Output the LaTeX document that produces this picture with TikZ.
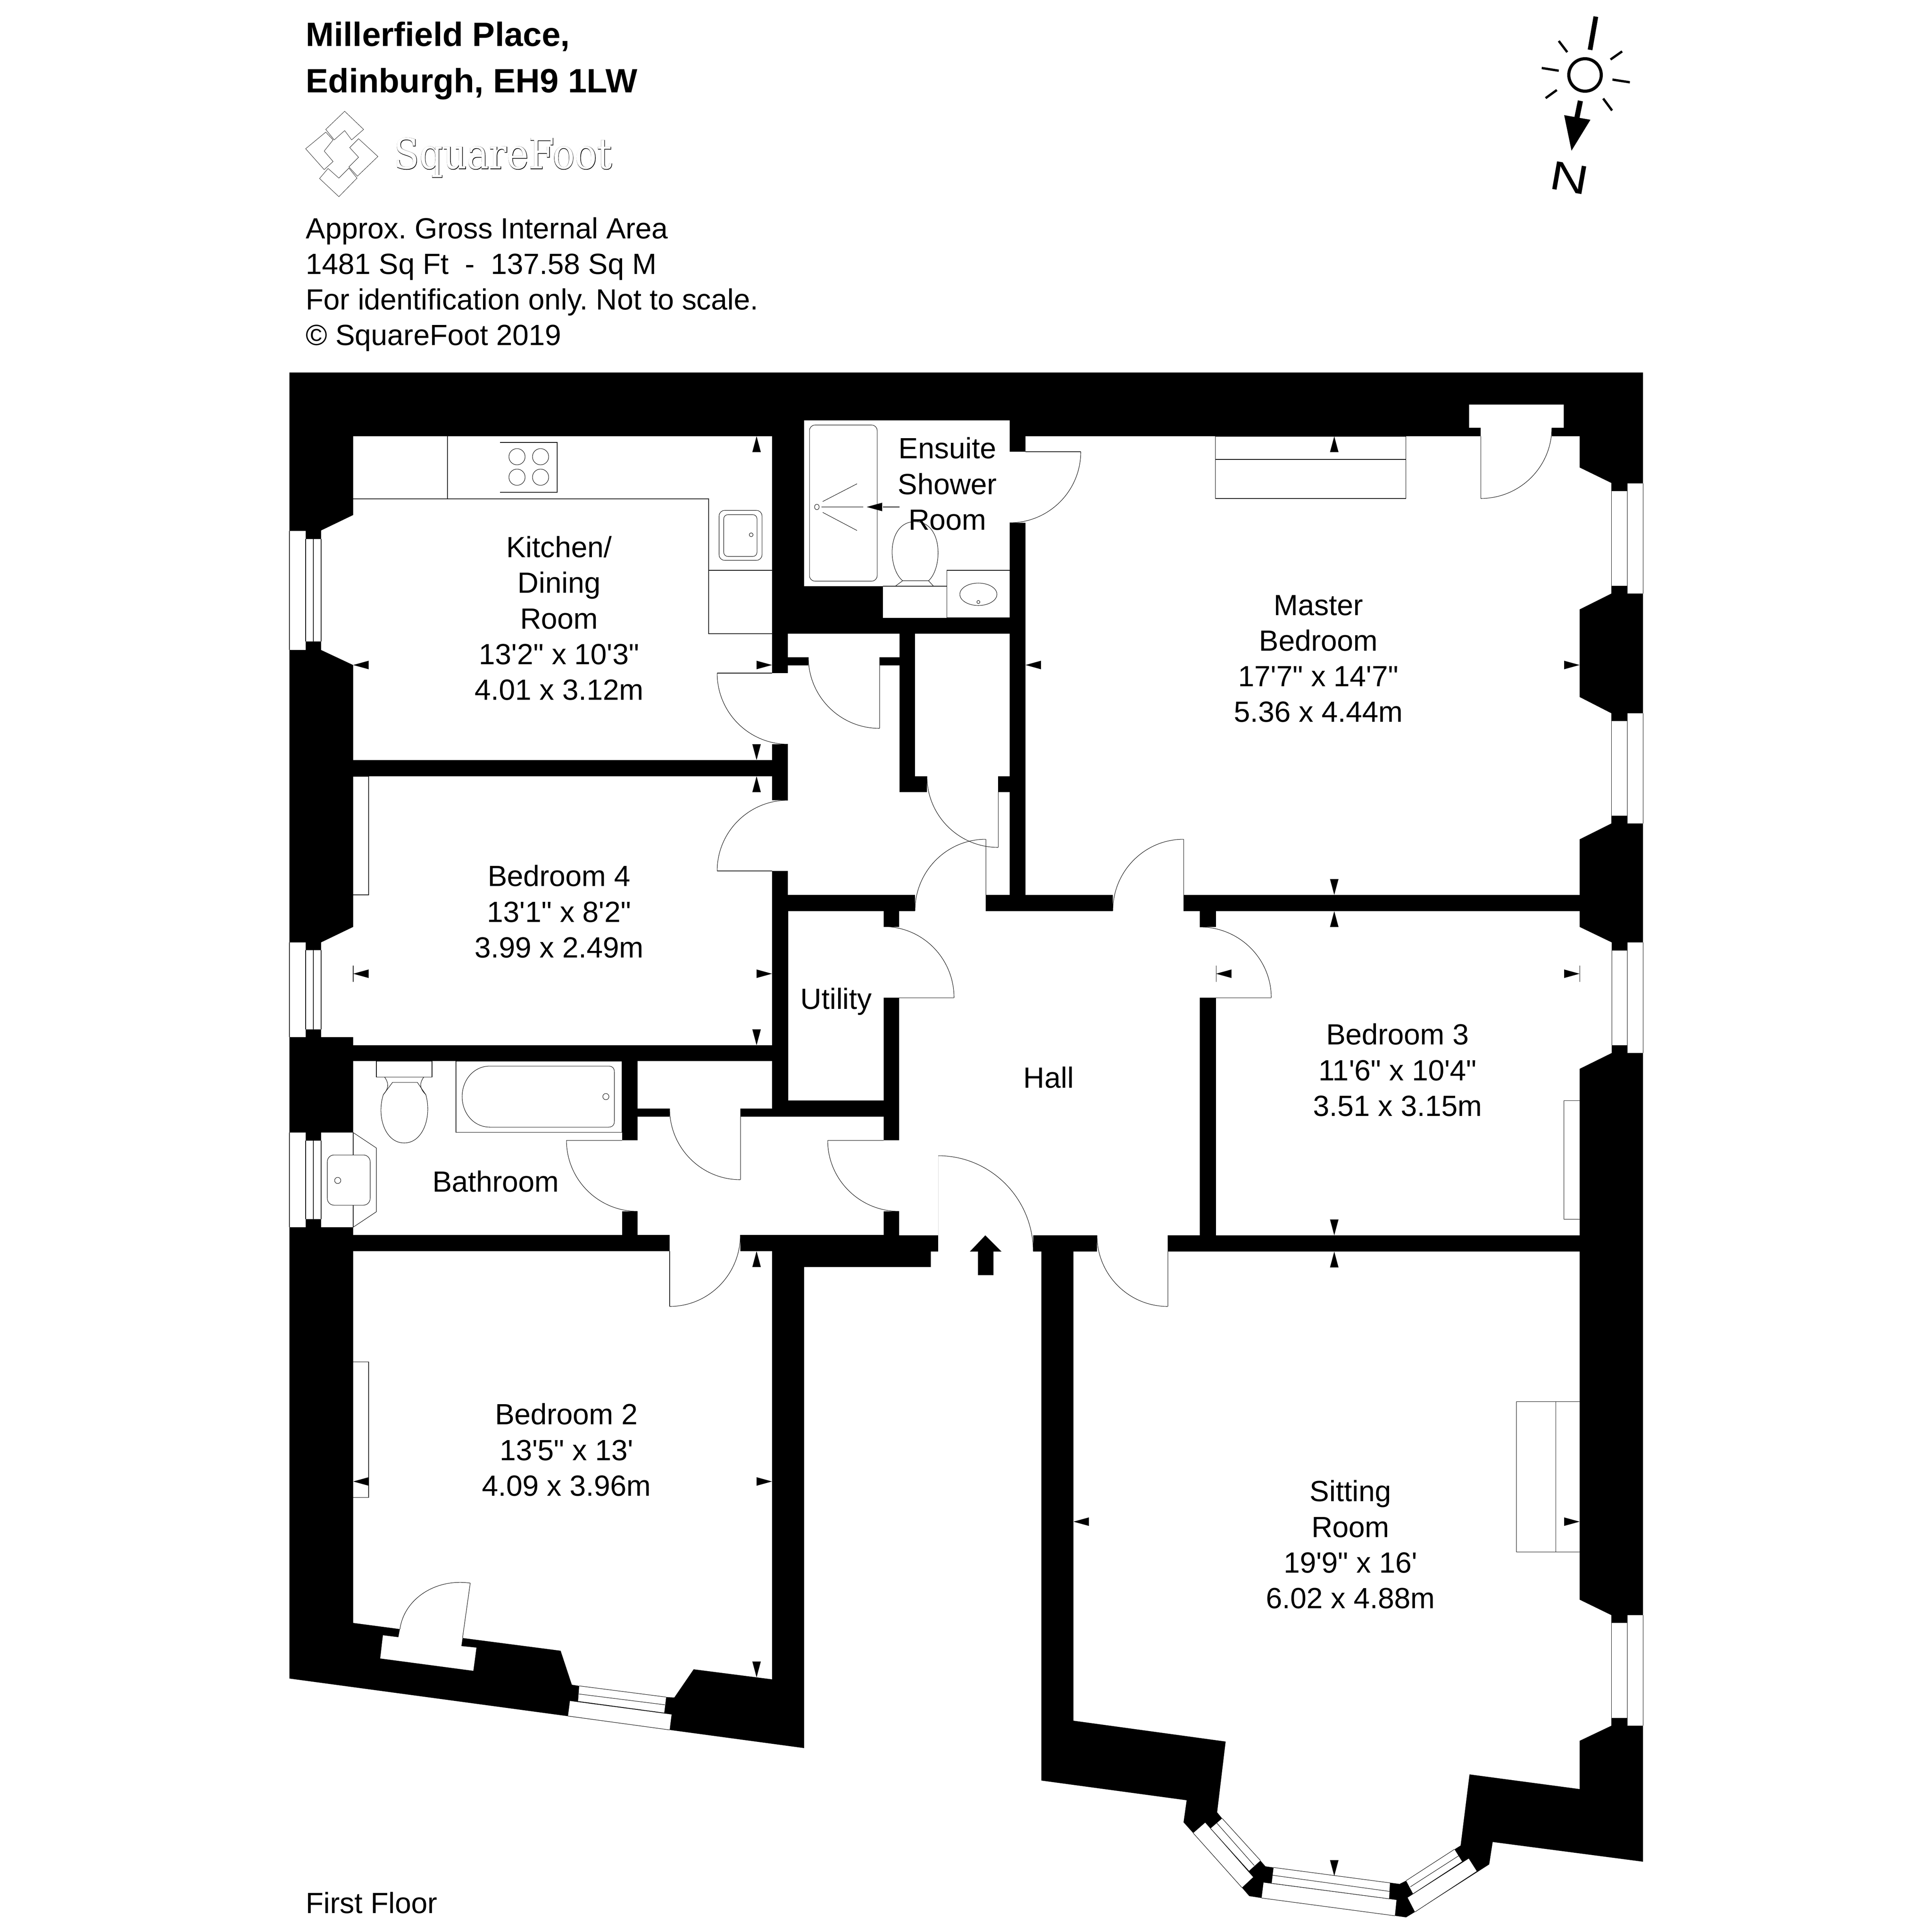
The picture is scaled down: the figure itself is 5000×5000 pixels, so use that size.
\documentclass[tikz,border=0pt]{standalone}
\usepackage{fontspec}
\usepackage{graphicx}
\usetikzlibrary{calc}
\setmainfont{Liberation Sans}
\newfontfamily\logofont[FakeBold=1.5]{DejaVu Serif}
\newfontfamily\logofontw{DejaVu Serif}
\frenchspacing
\newcommand\ftm{\textquotesingle}
\newcommand\inm{\textquotedbl}
\tikzset{
  thinl/.style={line width=0.3pt,black,line cap=butt},
  logol/.style={line width=0.22pt,black},
  wallfill/.style={fill=black,draw=none},
  floorfill/.style={fill=white,draw=none},
  roomlabel/.style={font=\fontsize{21.5pt}{26.2pt}\selectfont,align=center,inner sep=0pt,black},
  infolabel/.style={font=\fontsize{21.5pt}{26.2pt}\selectfont,align=left,inner sep=0pt,black},
  titlelabel/.style={font=\bfseries\fontsize{24.8pt}{34pt}\selectfont,align=left,inner sep=0pt,black},
  sunray/.style={line width=1.7pt,black},
}
\newcommand\doorarc[3]{\draw[thinl] (#1) .. controls ($(#1)!0.5523!(#3)$) and ($(#2)!0.5523!(#3)$) .. (#2);}
\newcommand\tipL[2]{\fill[black] (#1,#2) -- ++(40,-11) -- ++(0,22) -- cycle;}
\newcommand\tipR[2]{\fill[black] (#1,#2) -- ++(-40,-11) -- ++(0,22) -- cycle;}
\newcommand\tipU[2]{\fill[black] (#1,#2) -- ++(-11,41) -- ++(22,0) -- cycle;}
\newcommand\tipD[2]{\fill[black] (#1,#2) -- ++(-11,-41) -- ++(22,0) -- cycle;}
\begin{document}
\begin{tikzpicture}[x=0.01cm,y=-0.01cm]
\useasboundingbox (0,0) rectangle (5000,5000);
\fill[white] (0,0) rectangle (5000,5000);
% silhouette
\fill[wallfill] (749,964) -- (4252,964) -- (4252,4818) -- (3863,4767) -- (3854,4825) -- (3662,4948) -- (3639,4962) -- (3610,4958) -- (3265,4912) -- (3233,4907) -- (3214,4885) -- (3063,4716) -- (3071,4659) -- (2695,4608) -- (2695,3239) -- (2409,3239) -- (2409,3279) -- (2081,3279) -- (2081,4524) -- (749,4344) -- cycle;
% kitchen
\fill[floorfill] (914,1129) -- (1998,1129) -- (1998,1967) -- (914,1967) -- (914,1721) -- (831,1682) -- (831,1660) -- (791,1660) -- (791,1682) -- (749,1682) -- (749,1374) -- (791,1374) -- (791,1395) -- (831,1395) -- (831,1373) -- (914,1333) -- cycle;
% bedroom 4
\fill[floorfill] (914,2009) -- (1998,2009) -- (1998,2705) -- (914,2705) -- (914,2684) -- (831,2684) -- (831,2664) -- (791,2664) -- (791,2684) -- (749,2684) -- (749,2439) -- (791,2439) -- (791,2459) -- (831,2459) -- (831,2439) -- (914,2399) -- cycle;
% bathroom
\fill[floorfill] (914,2746) -- (1610,2746) -- (1610,3196) -- (914,3196) -- (914,3176) -- (831,3176) -- (831,3155) -- (791,3155) -- (791,3176) -- (749,3176) -- (749,2931) -- (791,2931) -- (791,2952) -- (831,2952) -- (831,2931) -- (914,2931) -- cycle;
% lobby, closet, gaps
\fill[floorfill] (1650,2890) rectangle (2287,3196);
\fill[floorfill] (1650,2746) rectangle (1998,2869);
\fill[floorfill] (1733,2869) rectangle (1916,2890);
\fill[floorfill] (1733,3196) rectangle (1916,3238);
\fill[floorfill] (1610,2951) rectangle (1650,3135);
\fill[floorfill] (2287,2951) rectangle (2327,3135);
% utility
\fill[floorfill] (2040,2358) rectangle (2287,2848);
\fill[floorfill] (2287,2399) rectangle (2327,2582);
% hall
\fill[floorfill] (2327,2358) rectangle (3105,3197);
\fill[floorfill] (2368,2316) rectangle (2551,2358);
\fill[floorfill] (2880,2316) rectangle (3063,2358);
\fill[floorfill] (2428,3197) rectangle (2674,3239);
\fill[floorfill] (2839,3197) rectangle (3022,3239);
\fill[floorfill] (3105,2399) rectangle (3147,2582);
\fill[floorfill] (2409,3239) rectangle (2695,3400);
% corridor
\fill[floorfill] (2039,1640) rectangle (2328,1701);
\fill[floorfill] (2092,1701) rectangle (2276,1722);
\fill[floorfill] (2039,1722) rectangle (2328,2316);
\fill[floorfill] (2328,2050) rectangle (2613,2316);
\fill[floorfill] (2399,2009) rectangle (2583,2050);
\fill[floorfill] (2368,1640) rectangle (2613,2009);
\fill[floorfill] (1998,1742) rectangle (2039,1926);
\fill[floorfill] (1998,2071) rectangle (2039,2254);
% ensuite
\fill[floorfill] (2081,1088) -- (2613,1088) -- (2613,1599) -- (2285,1599) -- (2285,1517) -- (2081,1517) -- cycle;
\fill[floorfill] (2613,1169) rectangle (2654,1353);
% master
\fill[floorfill] (2654,1129) -- (4088,1129) -- (4088,1210) -- (4170,1250) -- (4170,1271) -- (4211,1271) -- (4211,1251) -- (4252,1251) -- (4252,1536) -- (4211,1536) -- (4211,1516) -- (4170,1516) -- (4170,1536) -- (4088,1577) -- (4088,1804) -- (4170,1846) -- (4170,1866) -- (4211,1866) -- (4211,1846) -- (4252,1846) -- (4252,2131) -- (4211,2131) -- (4211,2111) -- (4170,2111) -- (4170,2131) -- (4088,2172) -- (4088,2316) -- (2654,2316) -- cycle;
\fill[wallfill] (4016,1107) rectangle (4088,1129);
\fill[floorfill] (3802,1047) rectangle (4047,1107);
\fill[floorfill] (3832,1107) rectangle (4016,1129);
% bedroom 3
\fill[floorfill] (3147,2358) -- (4088,2358) -- (4088,2399) -- (4171,2439) -- (4171,2460) -- (4211,2460) -- (4211,2439) -- (4252,2439) -- (4252,2725) -- (4211,2725) -- (4211,2705) -- (4171,2705) -- (4171,2725) -- (4088,2766) -- (4088,3197) -- (3147,3197) -- cycle;
% sitting room
\fill[floorfill] (2778,3239) -- (4088,3239) -- (4088,4140) -- (4170,4180) -- (4170,4200) -- (4211,4200) -- (4211,4180) -- (4252,4180) -- (4252,4466) -- (4211,4466) -- (4211,4446) -- (4170,4446) -- (4170,4466) -- (4088,4505) -- (4088,4630) -- (3803,4592) -- (3780,4776) -- (3764,4786) -- (3639,4867) -- (3621,4876) -- (3296,4833) -- (3275,4830) -- (3262,4815) -- (3163,4706) -- (3150,4690) -- (3172,4507) -- (2778,4453) -- cycle;
% bedroom 2
\fill[floorfill] (914,3238) -- (1998,3238) -- (1998,4346) -- (1795,4320) -- (1745,4393) -- (1724,4392) -- (1499,4363) -- (1480,4360) -- (1451,4272) -- (1197,4239) -- (1194,4260) -- (1233,4264) -- (1225,4324) -- (984,4292) -- (991,4232) -- (1031,4237) -- (1035,4216) -- (914,4200) -- cycle;
% bedroom 2 window
\fill[floorfill] (1499,4363) -- (1724,4392) -- (1719,4433) -- (1496,4403) -- cycle;
\fill[floorfill] (1475,4402) -- (1738,4437) -- (1733,4477) -- (1470,4441) -- cycle;
\draw[thinl] (1499,4363) -- (1724,4392);
\draw[thinl] (1498,4384) -- (1721,4412);
\draw[thinl] (1496,4403) -- (1719,4433);
\draw[thinl] (1470,4441) -- (1733,4477);
% bay windows
\fill[floorfill] (3133,4732) -- (3163,4706) -- (3262,4815) -- (3232,4842) -- cycle;
\fill[floorfill] (3088,4744) -- (3119,4717) -- (3243,4858) -- (3214,4885) -- cycle;
\draw[thinl] (3163,4706) -- (3262,4815);
\draw[thinl] (3149,4718) -- (3246,4828);
\draw[thinl] (3133,4732) -- (3232,4842);
\draw[thinl] (3088,4744) -- (3214,4885);
\fill[floorfill] (3296,4833) -- (3597,4873) -- (3595,4914) -- (3291,4874) -- cycle;
\fill[floorfill] (3270,4872) -- (3614,4917) -- (3610,4958) -- (3265,4912) -- cycle;
\draw[thinl] (3296,4833) -- (3621,4876);
\draw[thinl] (3293,4853) -- (3597,4895);
\draw[thinl] (3291,4874) -- (3595,4914);
\draw[thinl] (3265,4912) -- (3610,4958);
\fill[floorfill] (3639,4867) -- (3764,4786) -- (3784,4818) -- (3657,4901) -- cycle;
\fill[floorfill] (3643,4911) -- (3801,4810) -- (3822,4843) -- (3662,4948) -- cycle;
\draw[thinl] (3639,4867) -- (3764,4786);
\draw[thinl] (3650,4883) -- (3776,4802);
\draw[thinl] (3657,4901) -- (3784,4818);
\draw[thinl] (3662,4948) -- (3822,4843);
% window lines
\draw[thinl] (749,1374) -- (749,1682) (791,1395) -- (791,1660) (811,1395) -- (811,1660) (831,1395) -- (831,1660);
\draw[thinl] (749,2439) -- (749,2684) (791,2459) -- (791,2664) (811,2459) -- (811,2664) (831,2459) -- (831,2664);
\draw[thinl] (749,2931) -- (749,3176) (791,2952) -- (791,3155) (811,2952) -- (811,3155) (831,2952) -- (831,3155);
\draw[thinl] (4170,1271) -- (4170,1516) (4211,1251) -- (4211,1536) (4252,1251) -- (4252,1536);
\draw[thinl] (4170,1866) -- (4170,2111) (4211,1846) -- (4211,2131) (4252,1846) -- (4252,2131);
\draw[thinl] (4171,2460) -- (4171,2705) (4211,2439) -- (4211,2725) (4252,2439) -- (4252,2725);
\draw[thinl] (4170,4200) -- (4170,4446) (4211,4180) -- (4211,4466) (4252,4180) -- (4252,4466);
% doors
\draw[thinl] (2654,1169) -- (2797,1169); \doorarc{2797,1169}{2613,1353}{2797,1353}
\draw[thinl] (3832,1129) -- (3832,1290); \doorarc{3832,1290}{4016,1107}{4016,1290}
\draw[thinl] (2276,1722) -- (2276,1885); \doorarc{2092,1701}{2276,1885}{2092,1885}
\draw[thinl] (2583,2050) -- (2583,2193); \doorarc{2583,2193}{2399,2009}{2399,2193}
\draw[thinl] (1856,1742) -- (1998,1742); \doorarc{1856,1742}{2039,1926}{1856,1926}
\draw[thinl] (1856,2254) -- (1998,2254); \doorarc{1856,2254}{2039,2071}{1856,2071}
\draw[thinl] (2551,2172) -- (2551,2316); \doorarc{2551,2172}{2368,2357}{2368,2172}
\draw[thinl] (3063,2172) -- (3063,2316); \doorarc{3063,2172}{2880,2357}{2880,2172}
\draw[thinl] (2327,2582) -- (2469,2582); \doorarc{2469,2582}{2287,2398}{2469,2398}
\draw[thinl] (3147,2582) -- (3290,2582); \doorarc{3290,2582}{3105,2399}{3290,2399}
\draw[thinl] (1916,2890) -- (1916,3053); \doorarc{1916,3053}{1733,2869}{1733,3053}
\draw[thinl] (1466,2951) -- (1610,2951); \doorarc{1466,2951}{1650,3135}{1466,3135}
\draw[thinl] (2142,2951) -- (2287,2951); \doorarc{2142,2951}{2327,3135}{2142,3135}
\draw[thinl] (1733,3238) -- (1733,3381); \doorarc{1733,3381}{1916,3196}{1916,3381}
\draw[thinl] (3022,3239) -- (3022,3381); \doorarc{3022,3381}{2839,3197}{2839,3381}
\draw[line width=0.3pt,black!15] (2428,2991) -- (2428,3197); \doorarc{2428,2991}{2674,3239}{2674,2991}
\draw[thinl] (1197,4239) -- (1217,4097); \doorarc{1217,4097}{1035,4216}{1055,4074}
% kitchen fittings
\draw[thinl] (914,1291) -- (1834,1291) -- (1834,1640) -- (1998,1640);
\draw[thinl] (1158,1129) -- (1158,1291);
\draw[thinl] (1834,1476) -- (1998,1476);
\draw[thinl] (1294,1145) -- (1442,1145) -- (1442,1274) -- (1294,1274);
\foreach \hx in {1338,1399} \foreach \hy in {1182,1235} \draw[thinl] (\hx,\hy) circle[radius=21];
\draw[thinl,rounded corners=4pt] (1861,1321) rectangle (1972,1450);
\draw[thinl,rounded corners=3pt] (1873,1332) rectangle (1959,1440);
\draw[thinl] (1944,1384) circle[radius=5];
% ensuite fittings
\draw[thinl,rounded corners=4pt] (2095,1100) rectangle (2270,1504);
\draw[thinl] (2114,1312) circle[x radius=6,y radius=7];
\draw[thinl] (2129,1298) -- (2218,1252) (2126,1312) -- (2234,1312) (2129,1326) -- (2218,1373);
\draw[thinl] (2285,1517) -- (2450,1517) (2450,1476) rectangle (2613,1599);
\draw[thinl] (2532,1538) circle[x radius=48,y radius=29];
\draw[thinl] (2532,1558) circle[radius=4];
\draw[thinl] (2336,1503) .. controls (2296,1470) and (2295,1350) .. (2368,1350) .. controls (2441,1350) and (2440,1470) .. (2403,1503) -- cycle;
\draw[thinl] (2336,1503) -- (2317,1517) (2403,1503) -- (2416,1517);
\draw[thinl] (2285,1312) -- (2328,1312);
% bedroom cupboards
\draw[thinl] (914,2009) -- (954,2009) -- (954,2316) -- (914,2316);
\draw[thinl] (914,3524) -- (954,3524) -- (954,3875) -- (914,3875);
\draw[thinl] (4088,2848) -- (4047,2848) -- (4047,3155) -- (4088,3155);
\draw[thinl] (3145,1129) rectangle (3638,1290) (3145,1189) -- (3638,1189);
\draw[thinl] (4088,3627) -- (3924,3627) -- (3924,4016) -- (4088,4016) (4026,3627) -- (4026,4016);
% bathroom fittings
\draw[thinl] (914,2931) -- (914,2989) (914,3119) -- (914,3176);
\draw[thinl] (914,2931) -- (974,2971) -- (974,3136) -- (914,3176);
\draw[thinl,rounded corners=5pt] (847,2989) rectangle (958,3119);
\draw[thinl] (874,3055) circle[radius=8];
\draw[thinl] (974,2746) rectangle (1118,2787);
\draw[thinl] (1016,2801) -- (1080,2801) -- (1102,2833) .. controls (1118,2890) and (1095,2958) .. (1046,2958) .. controls (997,2958) and (974,2890) .. (992,2833) -- cycle;
\draw[thinl] (995,2787) .. controls (1008,2805) and (1005,2818) .. (992,2833);
\draw[thinl] (1097,2787) .. controls (1084,2805) and (1087,2818) .. (1102,2833);
\draw[thinl] (1180,2746) rectangle (1610,2930);
\draw[thinl] (1268,2759) -- (1575,2759) .. controls (1585,2759) and (1590,2765) .. (1590,2774) -- (1590,2902) .. controls (1590,2911) and (1585,2917) .. (1575,2917) -- (1268,2917) .. controls (1225,2917) and (1196,2880) .. (1196,2838) .. controls (1196,2796) and (1225,2759) .. (1268,2759) -- cycle;
\draw[thinl] (1568,2838) circle[radius=8];
% dimension ticks
\draw[thinl] (914,2499) -- (914,2541) (3147,2499) -- (3147,2541) (4088,2499) -- (4088,2541);
% dimension arrows
\tipL{914}{1721}\tipR{1998}{1721}\tipU{1958}{1129}\tipD{1958}{1967}
\tipU{1958}{2009}\tipD{1958}{2705}\tipL{914}{2520}\tipR{1998}{2520}
\tipL{2243}{1312}
\tipU{3453}{1129}\tipD{3453}{2316}\tipL{2654}{1721}\tipR{4088}{1721}
\tipU{3453}{2358}\tipD{3453}{3197}\tipL{3147}{2520}\tipR{4088}{2520}
\tipU{3453}{3239}\tipD{3453}{4855}\tipL{2778}{3938}\tipR{4088}{3938}
\tipU{1958}{3238}\tipD{1958}{4341}\tipL{914}{3834}\tipR{1998}{3834}
% entrance arrow
\fill[black] (2550,3197) -- (2592,3239) -- (2571,3239) -- (2571,3300) -- (2531,3300) -- (2531,3239) -- (2510,3239) -- cycle;
% room labels
\node[roomlabel] (kitchen) at (1447,1600) {Kitchen/\\Dining\\Room\\13\ftm2\inm{} x 10\ftm3\inm\\4.01 x 3.12m};
\node[roomlabel] (bed4) at (1447,2359) {Bedroom 4\\13\ftm1\inm{} x 8\ftm2\inm\\3.99 x 2.49m};
\node[roomlabel] (ensuite) at (2452,1252) {Ensuite\\Shower\\Room};
\node[roomlabel] (master) at (3412,1705) {Master\\Bedroom\\17\ftm7\inm{} x 14\ftm7\inm\\5.36 x 4.44m};
\node[roomlabel] (bed3) at (3617,2769) {Bedroom 3\\11\ftm6\inm{} x 10\ftm4\inm\\3.51 x 3.15m};
\node[roomlabel] (hall) at (2714,2788) {Hall};
\node[roomlabel] (utility) at (2164,2592) {Utility};
\node[roomlabel] (bathroom) at (1283,3057) {Bathroom};
\node[roomlabel] (bed2) at (1466,3752) {Bedroom 2\\13\ftm5\inm{} x 13\ftm\\4.09 x 3.96m};
\node[roomlabel] (sitting) at (3495,3997) {Sitting\\Room\\19\ftm9\inm{} x 16\ftm\\6.02 x 4.88m};
\node[infolabel,anchor=west] (floor) at (791,4924) {First Floor};
% header
\node[titlelabel,anchor=west] (title) at (791,157) {Millerfield Place,\\Edinburgh, EH9 1LW};
\node[infolabel,anchor=west] (info) at (791,736) {Approx. Gross Internal Area\\1481 Sq Ft\ \ -\ \ 137.58 Sq M\\For identification only. Not to scale.\\\textcopyright{} SquareFoot 2019};
% logo
\draw[logol] (892,288) -- (941,335) -- (910,362) -- (892,338) -- (865,362) -- (843,335) -- cycle;
\draw[logol] (843,342) -- (791,385) -- (839,439) -- (862,418) -- (839,391) -- (862,362) -- cycle;
\draw[logol] (928,359) -- (978,405) -- (925,456) -- (903,432) -- (928,407) -- (905,382) -- cycle;
\draw[logol] (827,462) -- (849,436) -- (877,461) -- (903,435) -- (924,461) -- (877,509) -- cycle;
\node[inner sep=0pt,anchor=west] (logoback) at (1019,408) {\resizebox*{160.5pt}{29.3pt}{\logofont\color{black}SquareFoot}};
\node[inner sep=0pt,anchor=west] (logofront) at (1019,408) {\resizebox*{160.5pt}{29.3pt}{\logofontw\color{white}SquareFoot}};
% compass
\begin{scope}[xshift=-0.1cm]
\draw[black,line width=2.3pt] (4112,194) circle[radius=42];
\draw[black,line width=3.5pt] (4140,43) -- (4125,129);
\draw[sunray] (4044,106) -- (4066,135);
\draw[sunray] (4208,133) -- (4178,154);
\draw[sunray] (4000,176) -- (4044,183);
\draw[sunray] (4183,206) -- (4228,213);
\draw[sunray] (4039,233) -- (4010,254);
\draw[sunray] (4159,255) -- (4182,286);
\draw[black,line width=3.8pt] (4100,261) -- (4091,305);
\fill[black] (4058,298) -- (4126,310) -- (4077,390) -- cycle;
\node[inner sep=0pt,rotate=-10,font=\fontsize{30pt}{30pt}\selectfont] (north) at (4072,460) {\scalebox{1.3}[1]{N}};
\end{scope}
\end{tikzpicture}
\end{document}
